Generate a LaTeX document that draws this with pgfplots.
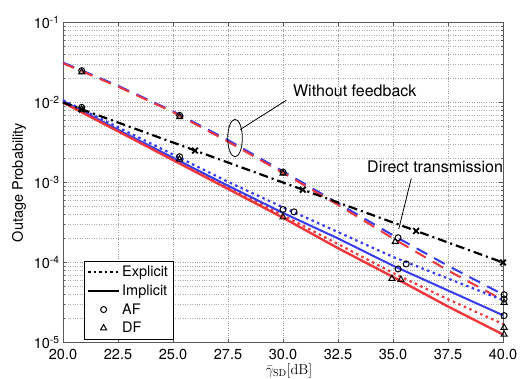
\documentclass[border=0pt]{standalone}
\usepackage[no-math]{fontspec}
\setmainfont{TeX Gyre Heros}
\usepackage{pgfplots}
\pgfplotsset{compat=1.18}
\definecolor{mred}{RGB}{240,55,60}
\definecolor{mblue}{RGB}{55,60,240}
\newcommand{\tf}{\fontsize{14.5bp}{17bp}\selectfont}
\newcommand{\af}{\fontsize{16bp}{19bp}\selectfont}
\pgfplotsset{
  lineleg/.style={legend image code/.code={\draw[##1] (0bp,0bp) -- (31bp,0bp);}},
  markleg/.style={legend image code/.code={\path (0bp,0bp) (31bp,0bp); \draw[##1, only marks] plot coordinates {(15.5bp,0bp)};}},
}
\begin{document}
\begin{tikzpicture}
\path[use as bounding box] (-63bp,-36.5bp) rectangle (457bp,342.5bp);
\begin{axis}[
  scale only axis, width=440bp, height=320bp,
  xmin=20, xmax=40, ymode=log, ymin=1e-5, ymax=1e-1,
  clip=false,
  xtick={20,22.5,25,27.5,30,32.5,35,37.5,40},
  /pgf/number format/assume math mode=true,
  xticklabel style={/pgf/number format/fixed, /pgf/number format/fixed zerofill, /pgf/number format/precision=1, yshift=-3bp},
  ytick={1e-5,1e-4,1e-3,1e-2,1e-1},
  yticklabels={10\textsuperscript{-5},10\textsuperscript{-4},10\textsuperscript{-3},10\textsuperscript{-2},10\textsuperscript{-1}},
  minor ytick={2e-5,3e-5,4e-5,5e-5,6e-5,7e-5,8e-5,9e-5,2e-4,3e-4,4e-4,5e-4,6e-4,7e-4,8e-4,9e-4,2e-3,3e-3,4e-3,5e-3,6e-3,7e-3,8e-3,9e-3,2e-2,3e-2,4e-2,5e-2,6e-2,7e-2,8e-2,9e-2},
  tick label style={font=\tf},
  xmajorgrids, ymajorgrids, yminorgrids,
  major grid style={gray!75, dotted, line width=0.6bp},
  minor grid style={gray!65, dotted, line width=0.6bp},
  axis line style={gray!70!black, line width=0.8bp},
  tick style={gray!70!black},
  tick align=inside,
  major tick length=4bp, minor tick length=2bp,
  xlabel={$\bar{\gamma}_{\mathrm{SD}}[\mathrm{dB}]$},
  xlabel style={font=\tf, at={(axis description cs:0.5,0)}, anchor=center, yshift=-28bp, xshift=6bp},
  ylabel={Outage Probability},
  ylabel style={font=\tf, at={(axis description cs:0,0.5)}, anchor=center, yshift=44bp},
  legend cell align=left,
  legend style={at={(0.0175,0.0093)}, anchor=south west, xshift=13bp, draw=black, fill=white, font=\tf,
    inner xsep=3bp, inner ysep=3bp, row sep=2.5bp, line width=0.8bp},
]
% legend
\addlegendimage{black, line width=2bp, dash pattern=on 2.5bp off 3bp, lineleg}
\addlegendentry{Explicit}
\addlegendimage{black, line width=2bp, lineleg}
\addlegendentry{Implicit}
\addlegendimage{black, only marks, mark=o, mark size=3bp, line width=1bp, markleg}
\addlegendentry{AF}
\addlegendimage{black, only marks, mark=triangle, mark size=3.5bp, line width=1bp, markleg}
\addlegendentry{DF}

% without feedback (dashed)
\addplot[mblue, line width=2bp, dash pattern=on 12bp off 8bp, forget plot] coordinates {
(20,3.16e-2)(22.5,1.62e-2)(25,7.76e-3)(27.5,3.39e-3)(30,1.38e-3)(32.5,5.50e-4)(35,2.19e-4)(37.5,9.12e-5)(40,3.98e-5)};
\addplot[mred, line width=2bp, dash pattern=on 12bp off 8bp, forget plot] coordinates {
(20,3.09e-2)(22.5,1.58e-2)(25,7.59e-3)(27.5,3.24e-3)(30,1.32e-3)(32.5,5.25e-4)(35,2.00e-4)(37.5,7.94e-5)(40,3.39e-5)};
% explicit (dotted)
\addplot[mblue, line width=2.2bp, dash pattern=on 2.5bp off 3.5bp, forget plot] coordinates {
(20,1.07e-2)(22.5,4.90e-3)(25,2.24e-3)(27.5,1.02e-3)(30,4.90e-4)(32.5,2.40e-4)(35,1.175e-4)(37.5,6.31e-5)(40,3.39e-5)};
\addplot[mred, line width=2.2bp, dash pattern=on 2.5bp off 3.5bp, forget plot] coordinates {
(20,1.02e-2)(22.5,4.47e-3)(25,1.95e-3)(27.5,8.71e-4)(30,3.89e-4)(32.5,1.70e-4)(35,7.41e-5)(37.5,3.47e-5)(40,1.70e-5)};
% implicit (solid)
\addplot[mblue, line width=2bp, forget plot] coordinates {
(20,1.047e-2)(22.5,4.57e-3)(25,2.04e-3)(27.5,9.12e-4)(30,4.17e-4)(32.5,2.0e-4)(35,9.12e-5)(37.5,4.47e-5)(40,2.19e-5)};
\addplot[mred, line width=2.4bp, forget plot] coordinates {
(20,1.0e-2)(22.5,4.37e-3)(25,1.905e-3)(27.5,8.32e-4)(30,3.63e-4)(32.5,1.51e-4)(35,6.61e-5)(37.5,2.82e-5)(40,1.26e-5)};
% direct transmission
\addplot[black, line width=2.2bp, dash pattern=on 9bp off 4bp on 2bp off 4bp, forget plot] coordinates {
(20,1e-2)(25,3.162e-3)(30,1e-3)(35,3.162e-4)(40,1e-4)};
\addplot[black, only marks, mark=x, mark size=4bp, line width=1.8bp, forget plot] coordinates {
(20.85,8.2e-3)(26.0,2.51e-3)(30.9,8.13e-4)(36.05,2.48e-4)(40,1e-4)};
% AF markers
\addplot[black, only marks, mark=o, mark size=3bp, line width=1bp, forget plot] coordinates {
(20.85,2.5e-2)(20.85,8.7e-3)(25.3,6.9e-3)(25.3,2.1e-3)(30.0,1.35e-3)(30.0,4.6e-4)(30.5,4.3e-4)(35.23,2.04e-4)(35.23,8.3e-5)(35.6,9.6e-5)(40.05,3.96e-5)(40.05,3.5e-5)(40.05,2.17e-5)};
% DF markers
\addplot[black, only marks, mark=triangle, mark size=3.5bp, line width=1bp, forget plot] coordinates {
(20.85,2.4e-2)(20.85,8.2e-3)(25.3,6.6e-3)(25.3,1.95e-3)(30.0,1.3e-3)(30.0,3.7e-4)(35.1,1.82e-4)(34.95,6.3e-5)(35.36,6.1e-5)(40.05,3.16e-5)(40.05,1.54e-5)(40.05,1.26e-5)};

% annotations
\draw[black, line width=0.8bp] (axis cs:27.82,3.59e-3) ellipse [x radius=7.3bp, y radius=18.7bp];
\draw[black, line width=0.8bp] (axis cs:28.06,4.6e-3) -- (axis cs:30.15,1.066e-2);
\node[anchor=base west, inner sep=0pt, font=\af] at (axis cs:30.45,1.175e-2) {Without feedback};
\draw[black, line width=0.8bp] (axis cs:35.83,1.127e-3) -- (axis cs:35.26,2.61e-4);
\node[anchor=base west, inner sep=0pt, font=\af] at (axis cs:33.82,1.32e-3) {Direct transmission};
\end{axis}
\end{tikzpicture}
\end{document}
